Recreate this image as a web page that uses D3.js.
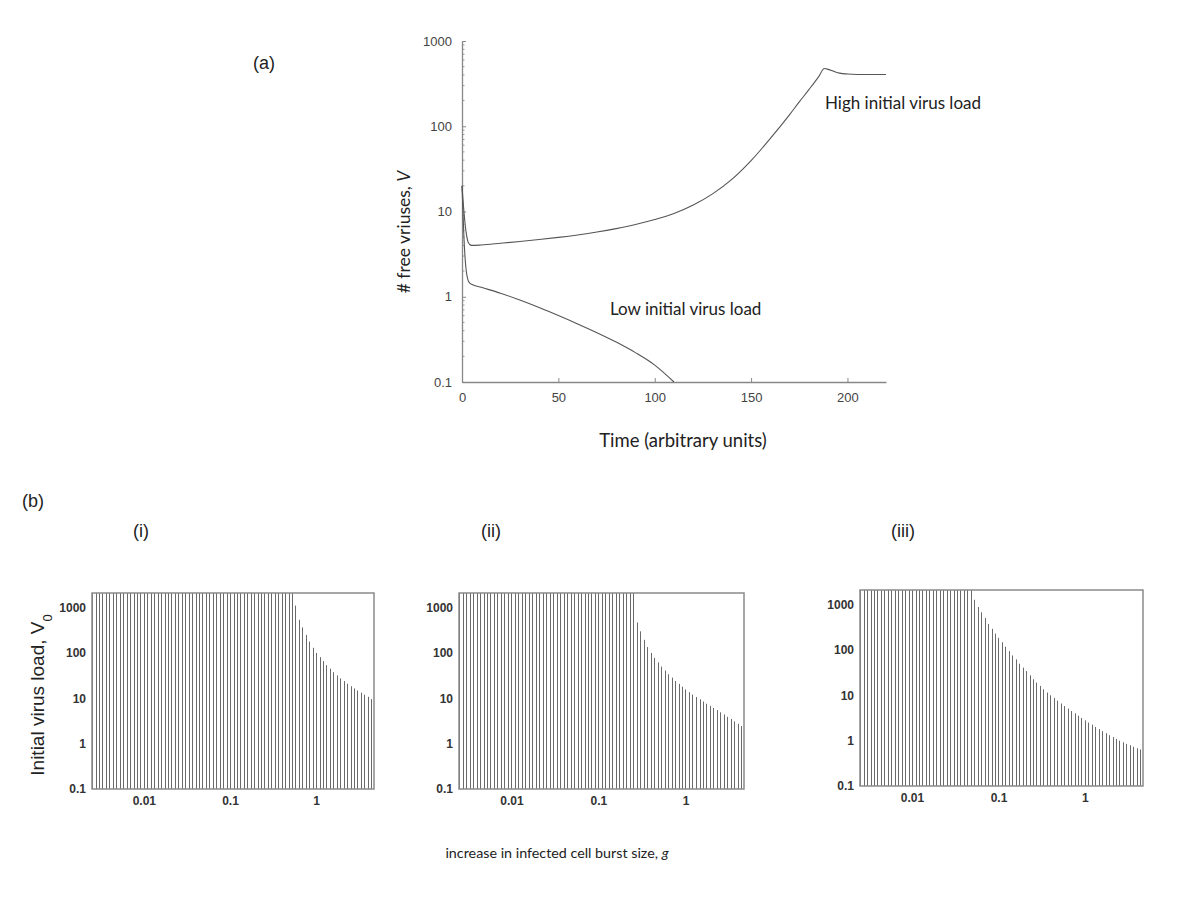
<!DOCTYPE html>
<html>
<head>
<meta charset="utf-8">
<script src="https://cdn.jsdelivr.net/npm/d3@7"></script>
<style>
  body { margin: 0; background: #fff; }
  svg { display: block; }
  .tick text { font-family: "Liberation Sans", Arial, sans-serif; fill: #333; }
  .lbl { font-family: Lato, "Open Sans", sans-serif; fill: #222; }
  .tag { font-family: "Liberation Sans", Arial, sans-serif; fill: #222; }
</style>
</head>
<body>
<svg id="chart" width="1200" height="900"></svg>
<script>
// (a) free virus over time, two initial loads
const timeHigh  = [0, 1, 2, 3, 4, 5, 10, 20, 30, 40, 50, 60, 70, 80, 90, 100, 110, 120, 130, 140, 150, 160, 170, 175, 180, 185, 188, 190, 193, 196, 200, 205, 210, 220];
const virusHigh = [20, 10, 6, 4.5, 4.1, 4.0, 4.05, 4.24, 4.45, 4.69, 4.97, 5.31, 5.74, 6.3, 7.03, 8.04, 9.48, 11.9, 16.1, 23.8, 39.5, 71.9, 137, 193, 269, 380, 475, 465, 440, 420, 410, 405, 405, 405];
const timeLow   = [0, 0.5, 1, 2, 3, 4, 5, 10, 20, 30, 40, 50, 60, 70, 80, 90, 100, 110];
const virusLow  = [20, 10, 5, 2.2, 1.6, 1.45, 1.4, 1.29, 1.1, 0.914, 0.746, 0.601, 0.48, 0.379, 0.294, 0.221, 0.158, 0.1];
const timeTicks = [0, 50, 100, 150, 200];
const logTicks  = [0.1, 1, 10, 100, 1000];

// (b) burst size increase g (shared x categories)
const burstSizes = [
  0.00251, 0.00275, 0.00302, 0.00331, 0.00363, 0.00398, 0.00437, 0.00479, 0.00525, 0.00575, 0.00631, 0.00692, 0.00759, 0.00832, 0.00912,
  0.0100, 0.0110, 0.0120, 0.0132, 0.0145, 0.0158, 0.0174, 0.0191, 0.0209, 0.0229, 0.0251, 0.0275, 0.0302, 0.0331, 0.0363,
  0.0398, 0.0437, 0.0479, 0.0525, 0.0575, 0.0631, 0.0692, 0.0759, 0.0832, 0.0912,
  0.100, 0.110, 0.120, 0.132, 0.145, 0.158, 0.174, 0.191, 0.209, 0.229, 0.251, 0.275, 0.302, 0.331, 0.363,
  0.398, 0.437, 0.479, 0.525, 0.575, 0.631, 0.692, 0.759, 0.832, 0.912,
  1.00, 1.10, 1.20, 1.32, 1.45, 1.58, 1.74, 1.91, 2.09, 2.29, 2.51, 2.75, 3.02, 3.31, 3.63, 3.98, 4.37
];
const gTicks = [0.01, 0.1, 1];
const v0Cap = 2100;   // bars that reach the top of the box
// threshold V0 for the last bars of each panel (earlier bars sit at the cap)
const thresholdI   = [1110, 540, 365, 250, 178, 130, 100, 81, 66, 54, 45, 37.5, 32, 27.5, 24, 21, 18.5, 16.5, 14.8, 13.3, 12, 10.8, 9.6];
const thresholdII  = [470, 300, 195, 135, 100, 78, 62, 50, 41, 34, 28.6, 24.2, 20.8, 18, 15.7, 13.7, 12.1, 10.7, 9.5, 8.5, 7.6, 6.8, 6.1, 5.5, 4.9, 4.4, 3.9, 3.5, 3.1, 2.75, 2.45];
const thresholdIII = [1280, 886, 675, 508, 375, 292, 230, 185, 148, 118, 94, 75.7, 61.9, 49.8, 40.7, 34.3, 27.6, 22.6, 19.1, 16.1, 13.6, 11.5, 10.0, 8.7, 7.6, 6.6, 5.8, 5.1, 4.5, 4.0, 3.55, 3.15, 2.8, 2.5, 2.25, 2.0, 1.8, 1.62, 1.46, 1.32, 1.2, 1.09, 1.0, 0.92, 0.85, 0.79, 0.73, 0.68, 0.64];

const svg = d3.select('#chart');
svg.append('rect').attr('width', 1200).attr('height', 900).attr('fill', '#fff');

const fmt = d => String(d);

// ---- panel (a)
const x = d3.scaleLinear().domain([0, 220]).range([462, 886]);
const y = d3.scaleLog().domain([0.1, 1000]).range([382, 41]);
const panelA = svg.append('g');

// minor log ticks, inside
panelA.append('g').selectAll('line')
  .data(y.ticks().filter(d => !logTicks.includes(d)))
  .enter().append('line')
  .attr('x1', 462).attr('x2', 464.5)
  .attr('y1', d => y(d)).attr('y2', d => y(d))
  .attr('stroke', '#999');

const yAxis = panelA.append('g').attr('transform', 'translate(462,0)')
  .call(d3.axisLeft(y).tickValues(logTicks).tickFormat(fmt).tickSizeInner(-4).tickSizeOuter(0).tickPadding(10));
const xAxis = panelA.append('g').attr('transform', 'translate(0,382)')
  .call(d3.axisBottom(x).tickValues(timeTicks).tickFormat(fmt).tickSizeInner(-4).tickSizeOuter(0).tickPadding(11));
[yAxis, xAxis].forEach(a => {
  a.select('.domain').attr('stroke', '#888').attr('stroke-width', 1.3);
  a.selectAll('.tick line').attr('stroke', '#888');
  a.selectAll('text').style('font-size', '13px').style('fill', '#444');
});

const line = d3.line().x(d => x(d[0])).y(d => y(d[1])).curve(d3.curveMonotoneX);
[[timeHigh, virusHigh], [timeLow, virusLow]].forEach(([t, v]) => {
  panelA.append('path')
    .datum(d3.zip(t, v))
    .attr('d', line)
    .attr('fill', 'none')
    .attr('stroke', '#555')
    .attr('stroke-width', 1.1);
});

panelA.append('text').attr('class', 'lbl').attr('x', 825).attr('y', 109).style('font-size', '17px').text('High initial virus load');
panelA.append('text').attr('class', 'lbl').attr('x', 610).attr('y', 315).style('font-size', '17px').text('Low initial virus load');
panelA.append('text').attr('class', 'lbl').attr('x', 683).attr('y', 447).attr('text-anchor', 'middle').style('font-size', '18.5px')
  .text('Time (arbitrary units)');
const yt = panelA.append('text').attr('class', 'lbl').attr('text-anchor', 'middle').style('font-size', '17.5px')
  .attr('transform', 'translate(410,232) rotate(-90)');
yt.append('tspan').text('# free vriuses, ');
yt.append('tspan').style('font-style', 'italic').text('V');
svg.append('text').attr('class', 'tag').attr('x', 253).attr('y', 69).style('font-size', '18px').text('(a)');

// ---- panels (b)
svg.append('text').attr('class', 'tag').attr('x', 22).attr('y', 507).style('font-size', '18px').text('(b)');

const panels = [
  {tag: '(i)',   tagX: 141, x0: 92,  x1: 374,  y0: 593, y1: 789, tail: thresholdI},
  {tag: '(ii)',  tagX: 491, x0: 459, x1: 744,  y0: 593, y1: 789, tail: thresholdII},
  {tag: '(iii)', tagX: 903, x0: 860, x1: 1143, y0: 590, y1: 786, tail: thresholdIII}
];

panels.forEach(p => {
  const start = burstSizes.length - p.tail.length;
  const rows = burstSizes.map((g, i) => ({g, v: i < start ? v0Cap : p.tail[i - start]}));
  const gx = d3.scaleLog().domain([0.0025, 4.7]).range([p.x0, p.x1]);
  const vy = d3.scaleLog().domain([0.1, v0Cap]).range([p.y1, p.y0]);
  const g = svg.append('g');

  g.selectAll('.bar').data(rows).enter().append('line')
    .attr('class', 'bar')
    .attr('x1', d => Math.round(gx(d.g)) + 0.5).attr('x2', d => Math.round(gx(d.g)) + 0.5)
    .attr('y1', vy(0.1)).attr('y2', d => vy(d.v))
    .attr('stroke', '#6a6a6a').attr('stroke-width', 1);

  g.append('rect')
    .attr('x', p.x0).attr('y', p.y0)
    .attr('width', p.x1 - p.x0).attr('height', p.y1 - p.y0)
    .attr('fill', 'none').attr('stroke', '#8a8a8a').attr('stroke-width', 1.5);

  const ya = g.append('g').attr('transform', `translate(${p.x0},0)`)
    .call(d3.axisLeft(vy).tickValues(logTicks).tickFormat(fmt).tickSize(0).tickPadding(6));
  const xa = g.append('g').attr('transform', `translate(0,${p.y1})`)
    .call(d3.axisBottom(gx).tickValues(gTicks).tickFormat(fmt).tickSize(0).tickPadding(7));
  [ya, xa].forEach(a => {
    a.select('.domain').remove();
    a.selectAll('text').style('font-size', '12px').style('font-weight', 'bold').style('fill', '#333');
  });

  svg.append('text').attr('class', 'tag').attr('x', p.tagX).attr('y', 537)
    .attr('text-anchor', 'middle').style('font-size', '18px').text(p.tag);
});

const v0t = svg.append('text').attr('class', 'tag').attr('text-anchor', 'middle').style('font-size', '19px')
  .attr('transform', 'translate(44,695) rotate(-90)');
v0t.append('tspan').text('Initial virus load, V');
v0t.append('tspan').attr('baseline-shift', 'sub').style('font-size', '13px').text('0');

const gt = svg.append('text').attr('class', 'lbl').attr('x', 557).attr('y', 858).attr('text-anchor', 'middle').style('font-size', '14.3px');
gt.append('tspan').text('increase in infected cell burst size, ');
gt.append('tspan').style('font-style', 'italic').text('g');
</script>
</body>
</html>
